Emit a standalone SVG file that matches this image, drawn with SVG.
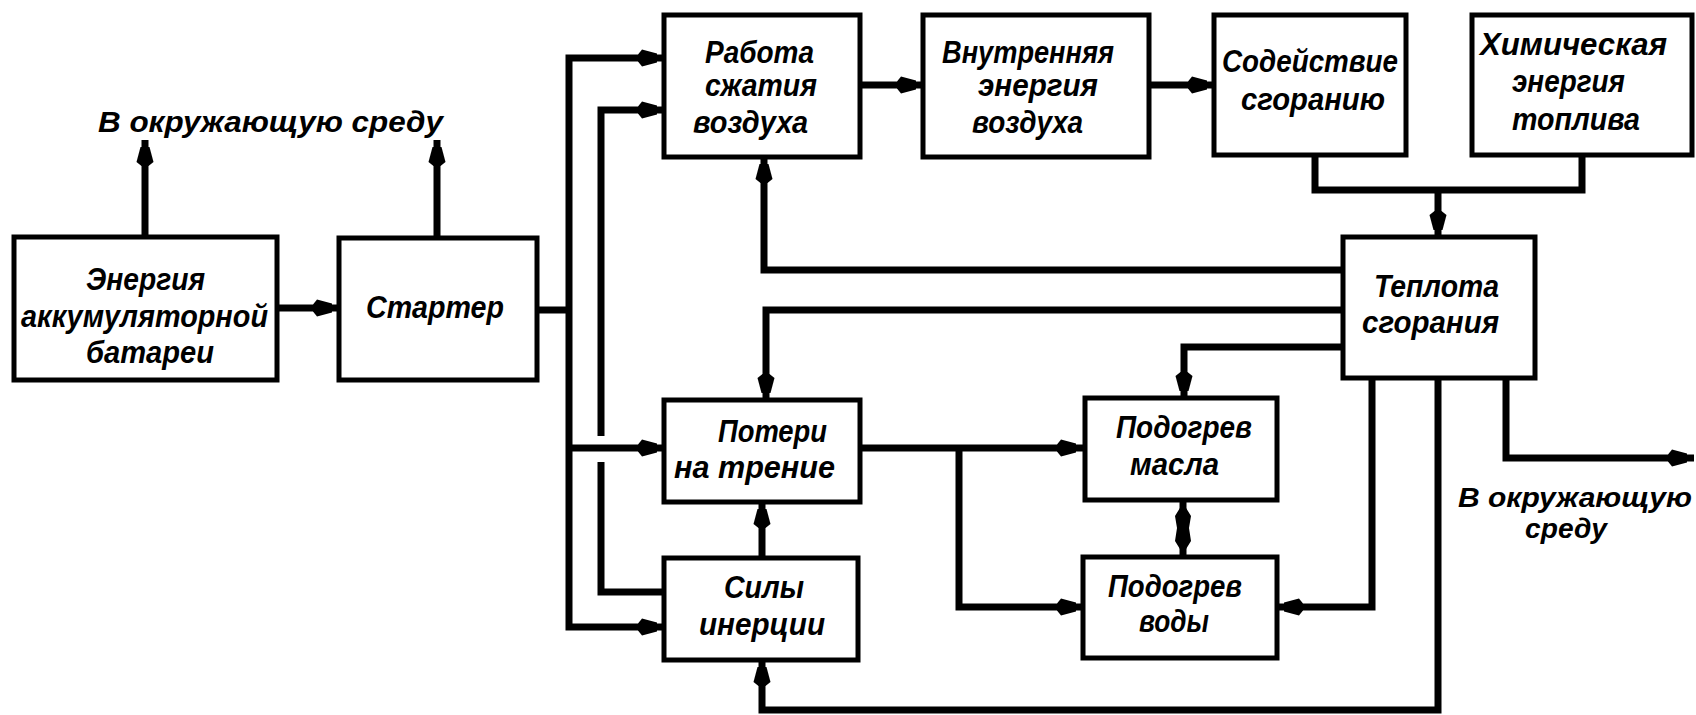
<svg xmlns="http://www.w3.org/2000/svg" width="1696" height="715" viewBox="0 0 1696 715">
<style>
.box{fill:#fff;stroke:#000;stroke-width:5}
.c{fill:none;stroke:#000;stroke-width:7;stroke-linejoin:miter;stroke-linecap:butt}
.a{marker-end:url(#ah)}
text{font-family:"Liberation Sans",Arial,sans-serif;font-weight:bold;font-style:italic;font-size:32px;fill:#000}
.env{font-size:30px}
.env2{font-size:28px}
</style>
<defs>
<marker id="ah" markerUnits="userSpaceOnUse" viewBox="-30 -10 32 20" refX="0" refY="0" markerWidth="32" markerHeight="20" orient="auto" overflow="visible">
<path d="M-26,-3.5 L-22,-8.5 L-7,-4.5 L-7,4.5 L-22,8.5 L-26,3.5 Z" fill="#000"/>
</marker>
</defs>
<rect width="1696" height="715" fill="#fff"/>
<g id="connectors">
<path class="c a" d="M277,308 H339"/>
<path class="c a" d="M145,237 V140"/>
<path class="c a" d="M437,238 V140"/>
<path class="c" d="M537,310 H569"/>
<path class="c a" d="M569,310 V58 H664"/>
<path class="c a" d="M569,310 V627 H664"/>
<path class="c a" d="M569,448 H664"/>
<path class="c a" d="M664,592 H601 V462 M601,436 V110 H664"/>
<path class="c a" d="M860,85 H923"/>
<path class="c a" d="M1149,85 H1214"/>
<path class="c" d="M1315,155 V190 H1582 V155"/>
<path class="c a" d="M1438,190 V237"/>
<path class="c a" d="M1343,270 H764 V157"/>
<path class="c a" d="M1343,310 H766 V400"/>
<path class="c a" d="M1343,347 H1184 V398"/>
<path class="c a" d="M1372,378 V607 H1277"/>
<path class="c a" d="M1438,378 V710 H762 V660"/>
<path class="c a" d="M1506,378 V458 H1694"/>
<path class="c a" d="M860,448 H1083"/>
<path class="c a" d="M959,448 V607 H1083"/>
<path class="c a" d="M762,558 V502"/>
<path class="c" d="M1183,500 V557"/>
<path d="M1183,503 L1175,516 L1177,528 L1175,541 L1183,554 L1191,541 L1189,528 L1191,516 Z" fill="#000"/>
</g>
<g id="battery">
<rect class="box" x="14" y="237" width="263" height="143"/>
<text x="86" y="290" textLength="119" lengthAdjust="spacingAndGlyphs">Энергия</text>
<text x="21" y="327" textLength="247" lengthAdjust="spacingAndGlyphs">аккумуляторной</text>
<text x="86" y="363" textLength="128" lengthAdjust="spacingAndGlyphs">батареи</text>
</g>
<g id="starter">
<rect class="box" x="339" y="238" width="198" height="142"/>
<text x="366" y="318" textLength="138" lengthAdjust="spacingAndGlyphs">Стартер</text>
</g>
<g id="env-top">
<text class="env" x="98" y="132" textLength="345" lengthAdjust="spacingAndGlyphs">В окружающую среду</text>
</g>
<g id="work">
<rect class="box" x="664" y="15" width="196" height="142"/>
<text x="705" y="63" textLength="109" lengthAdjust="spacingAndGlyphs">Работа</text>
<text x="705" y="96" textLength="112" lengthAdjust="spacingAndGlyphs">сжатия</text>
<text x="693" y="133" textLength="115" lengthAdjust="spacingAndGlyphs">воздуха</text>
</g>
<g id="internal">
<rect class="box" x="923" y="15" width="226" height="142"/>
<text x="942" y="63" textLength="172" lengthAdjust="spacingAndGlyphs">Внутренняя</text>
<text x="978" y="96" textLength="120" lengthAdjust="spacingAndGlyphs">энергия</text>
<text x="972" y="133" textLength="111" lengthAdjust="spacingAndGlyphs">воздуха</text>
</g>
<g id="assist">
<rect class="box" x="1214" y="15" width="192" height="140"/>
<text x="1222" y="72" textLength="176" lengthAdjust="spacingAndGlyphs">Содействие</text>
<text x="1241" y="110" textLength="144" lengthAdjust="spacingAndGlyphs">сгоранию</text>
</g>
<g id="chemical">
<rect class="box" x="1472" y="15" width="220" height="140"/>
<text x="1480" y="55" textLength="187" lengthAdjust="spacingAndGlyphs">Химическая</text>
<text x="1512" y="92" textLength="113" lengthAdjust="spacingAndGlyphs">энергия</text>
<text x="1512" y="130" textLength="128" lengthAdjust="spacingAndGlyphs">топлива</text>
</g>
<g id="heat">
<rect class="box" x="1343" y="237" width="192" height="141"/>
<text x="1374" y="297" textLength="125" lengthAdjust="spacingAndGlyphs">Теплота</text>
<text x="1362" y="333" textLength="137" lengthAdjust="spacingAndGlyphs">сгорания</text>
</g>
<g id="friction">
<rect class="box" x="664" y="400" width="196" height="102"/>
<text x="718" y="442" textLength="109" lengthAdjust="spacingAndGlyphs">Потери</text>
<text x="674" y="478" textLength="161" lengthAdjust="spacingAndGlyphs">на трение</text>
</g>
<g id="inertia">
<rect class="box" x="664" y="558" width="194" height="102"/>
<text x="724" y="598" textLength="80" lengthAdjust="spacingAndGlyphs">Силы</text>
<text x="699" y="635" textLength="126" lengthAdjust="spacingAndGlyphs">инерции</text>
</g>
<g id="oil">
<rect class="box" x="1085" y="398" width="192" height="102"/>
<text x="1116" y="438" textLength="136" lengthAdjust="spacingAndGlyphs">Подогрев</text>
<text x="1130" y="475" textLength="89" lengthAdjust="spacingAndGlyphs">масла</text>
</g>
<g id="water">
<rect class="box" x="1083" y="557" width="194" height="101"/>
<text x="1108" y="597" textLength="134" lengthAdjust="spacingAndGlyphs">Подогрев</text>
<text x="1139" y="632" textLength="70" lengthAdjust="spacingAndGlyphs">воды</text>
</g>
<g id="env-right">
<text class="env2" x="1458" y="507" textLength="234" lengthAdjust="spacingAndGlyphs">В окружающую</text>
<text class="env2" x="1525" y="538" textLength="82" lengthAdjust="spacingAndGlyphs">среду</text>
</g>
</svg>
